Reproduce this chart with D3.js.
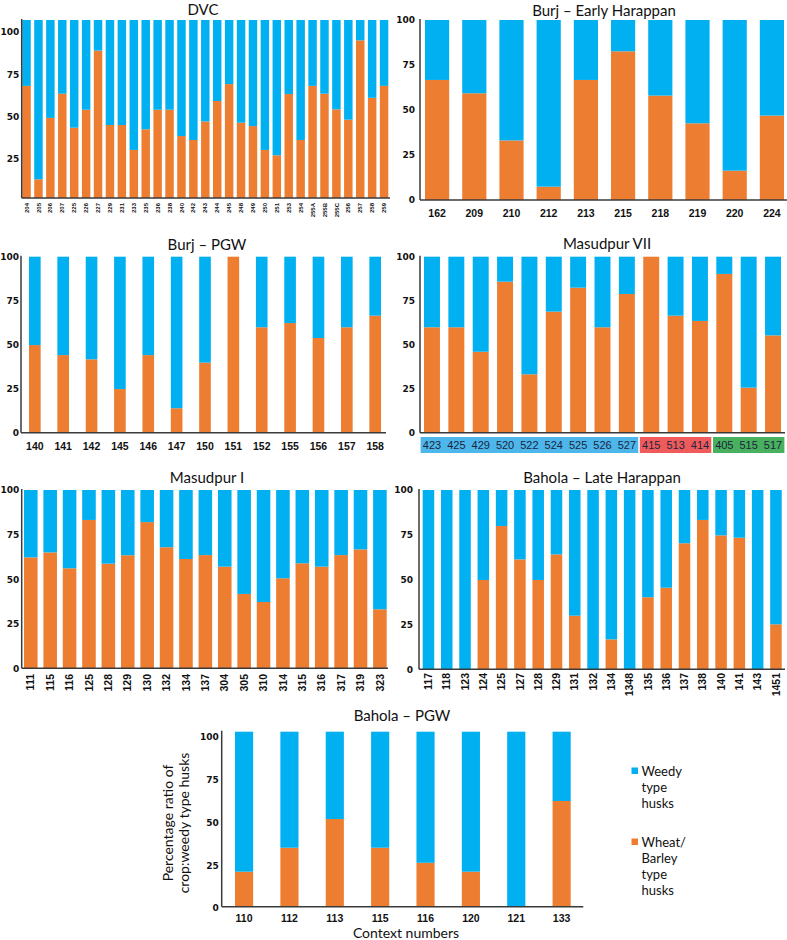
<!DOCTYPE html>
<html>
<head>
<meta charset="utf-8">
<script src="https://cdn.jsdelivr.net/npm/d3@7"></script>
<style>
body { margin: 0; background: #fff; }
svg text { font-family: Lato, "Open Sans", sans-serif; }
</style>
</head>
<body>
<div id="chart"></div>
<script>
// wheat/barley share (%) per context; weedy = 100 - wheat
var dvcLabels = ["204","205","206","207","225","226","227","229","231","233","235","236","238","240","242","243","244","245","248","249","250","251","253","254","255A","255B","255C","256","257","258","259"];
var dvcWheat = [63,10.5,45,58.6,39.5,49.6,82.8,41,41,27,38.6,49.6,49.6,34.8,32.6,43,54.5,64,42.3,40.4,27,24,58.4,32.6,63,58.6,49.8,44,88.6,56.3,63];

var burjEhLabels = ["162","209","210","212","213","215","218","219","220","224"];
var burjEhWheat = [66.7,59.3,33.1,7.4,66.7,82.6,58,42.6,16.3,46.9];

var burjPgwLabels = ["140","141","142","145","146","147","150","151","152","155","156","157","158"];
var burjPgwWheat = [49.8,44.1,41.7,24.8,44.1,13.9,39.8,100,59.9,62.3,53.8,59.9,66.5];

var masVIILabels = ["423","425","429","520","522","524","525","526","527","415","513","414","405","515","517"];
var masVIIWheat = [59.9,59.9,46,85.8,33.2,68.8,82.4,59.9,78.8,100,66.5,63.5,90.2,25.6,55.3];
var masVIIGroups = [9,3,3];

var masILabels = ["111","115","116","125","128","129","130","132","134","137","304","305","310","314","315","316","317","319","323"];
var masIWheat = [62.2,65,56.1,83.2,58.7,63.4,82,67.9,61.3,63.5,57,41.7,37.2,50.5,58.9,57,63.5,66.7,33.1];

var bahLhLabels = ["117","118","123","124","125","127","128","129","131","132","134","1348","135","136","137","138","140","141","143","1451"];
var bahLhWheat = [0,0,0,49.8,79.9,61.3,49.8,64.1,29.9,0,16.7,0,40.2,45.5,70.3,83.3,74.7,73.4,0,25.1];

var bahPgwLabels = ["110","112","113","115","116","120","121","133"];
var bahPgwWheat = [20,33.7,50.1,33.7,25.1,20,0,60.4];

var yTicks = [0,25,50,75,100];
var colors = { wheat: "#ed7d31", weedy: "#00b0f0" };
var axisColor = "#3a3a3a";

var svg = d3.select('#chart')
	.append('svg')
	.attr('width', 787)
	.attr('height', 940);

function drawPanel(o)
{
	var rows = o.labels.map(function(d, i) {
		return { ctx: d, wheat: o.wheat[i], weedy: 100 - o.wheat[i] };
	});
	var x = d3.scaleBand().domain(o.labels).range([o.x1, o.x2]).paddingInner(o.pad).paddingOuter(0);
	var y = d3.scaleLinear().domain([0, 100]).range([o.bottom, o.top]);
	var layers = d3.stack().keys(['wheat', 'weedy'])(rows);
	var g = svg.append('g');

	g.selectAll('g.layer')
		.data(layers)
		.enter().append('g')
		.attr('fill', function(d) { return colors[d.key]; })
		.selectAll('rect')
		.data(function(d) { return d; })
		.enter().append('rect')
		.attr('x', function(d) { return x(d.data.ctx); })
		.attr('width', x.bandwidth())
		.attr('y', function(d) { return y(d[1]); })
		.attr('height', function(d) { return y(d[0]) - y(d[1]); });

	// axis lines
	g.append('line')
		.attr('x1', o.axisX).attr('x2', o.axisX)
		.attr('y1', o.top - 1).attr('y2', o.bottom)
		.attr('style', 'stroke:' + axisColor + ';stroke-width:1.5');
	g.append('line')
		.attr('x1', o.axisX).attr('x2', o.baseEnd)
		.attr('y1', o.bottom).attr('y2', o.bottom)
		.attr('style', 'stroke:' + axisColor + ';stroke-width:1.5');

	// y tick labels
	var ty = o.tickScale || y;
	var ya = g.append('g')
		.attr('transform', 'translate(' + o.axisX + ',0)')
		.call(d3.axisLeft(ty).tickValues(o.ticks || yTicks).tickSize(0).tickPadding(o.tickPad || 4));
	ya.select('.domain').remove();
	ya.selectAll('text')
		.attr('fill', '#111')
		.style('font-family', '"DejaVu Sans", sans-serif')
		.style('font-weight', 'bold')
		.style('font-size', '9px');

	// x labels
	var xa = g.append('g')
		.attr('transform', 'translate(0,' + o.bottom + ')')
		.call(d3.axisBottom(x).tickSize(0));
	xa.select('.domain').remove();
	var xt = xa.selectAll('text')
		.attr('fill', o.labelColor || '#111')
		.style('font-family', '"Liberation Sans", Arial, sans-serif')
		.style('font-weight', o.labelWeight || 'bold')
		.style('font-size', o.labelSize + 'px');
	if (o.rotate)
	{
		xt.attr('y', 0).attr('dy', '0.35em')
			.attr('text-anchor', 'end')
			.attr('transform', 'translate(0,' + (o.labelY - o.bottom) + ') rotate(-90)');
	}
	else
	{
		xt.attr('y', o.labelY - o.bottom).attr('dy', null);
	}

	// title
	g.append('text')
		.attr('x', o.titleX)
		.attr('y', o.titleY)
		.attr('text-anchor', 'middle')
		.attr('fill', '#111')
		.style('font-size', '15px')
		.text(o.title);

	return { g: g, x: x, y: y, xa: xa };
}

drawPanel({ title: "DVC", titleX: 203, titleY: 15, labels: dvcLabels, wheat: dvcWheat,
	x1: 22.3, x2: 388.3, pad: 0.29, top: 20, bottom: 198, axisX: 21.7, baseEnd: 390,
	ticks: [25, 50, 75, 100], tickPad: 2.5, tickScale: d3.scaleLinear().domain([2, 107]).range([198, 20]),
	rotate: true, labelY: 203, labelSize: 6 });

drawPanel({ title: "Burj \u2013 Early Harappan", titleX: 604, titleY: 16, labels: burjEhLabels, wheat: burjEhWheat,
	x1: 425, x2: 784, pad: 0.35, top: 20, bottom: 200, axisX: 420, baseEnd: 787,
	tickPad: 5, rotate: false, labelY: 217, labelSize: 10.5 });

drawPanel({ title: "Burj \u2013 PGW", titleX: 207, titleY: 250, labels: burjPgwLabels, wheat: burjPgwWheat,
	x1: 29, x2: 381, pad: 0.59, top: 256.7, bottom: 432.7, axisX: 21, baseEnd: 386,
	tickPad: 2, rotate: false, labelY: 450, labelSize: 10.5 });

var mas7 = drawPanel({ title: "Masudpur VII", titleX: 607, titleY: 249, labels: masVIILabels, wheat: masVIIWheat,
	x1: 424, x2: 781, pad: 0.345, top: 256.7, bottom: 432.7, axisX: 420, baseEnd: 785,
	tickPad: 5, rotate: false, labelY: 449, labelSize: 11, labelWeight: 'normal', labelColor: '#1c2540' });

// coloured context groups under Masudpur VII
var groupColors = ["#4db6ea", "#ef5b5b", "#48b05e"];
var gx = mas7.x, half = (gx.step() - gx.bandwidth()) / 2, start = 0;
masVIIGroups.forEach(function(n, i) {
	var first = masVIILabels[start], last = masVIILabels[start + n - 1];
	mas7.g.insert('rect', 'g')
		.attr('x', gx(first) - half + 0.8)
		.attr('width', gx(last) + gx.bandwidth() + half - 0.8 - (gx(first) - half + 0.8))
		.attr('y', 437)
		.attr('height', 16)
		.attr('fill', groupColors[i]);
	start += n;
});

drawPanel({ title: "Masudpur I", titleX: 207, titleY: 483, labels: masILabels, wheat: masIWheat,
	x1: 24, x2: 386.7, pad: 0.3, top: 490, bottom: 668.3, axisX: 21.7, baseEnd: 388,
	tickPad: 2.5, rotate: true, labelY: 674, labelSize: 10.5 });

drawPanel({ title: "Bahola \u2013 Late Harappan", titleX: 602, titleY: 483, labels: bahLhLabels, wheat: bahLhWheat,
	x1: 422.7, x2: 781.7, pad: 0.37, top: 490, bottom: 669.3, axisX: 419, baseEnd: 785,
	tickPad: 6, rotate: true, labelY: 673, labelSize: 10.5 });

drawPanel({ title: "Bahola \u2013 PGW", titleX: 402, titleY: 721, labels: bahPgwLabels, wheat: bahPgwWheat,
	x1: 235, x2: 570.7, pad: 0.6, top: 731.7, bottom: 906.7, axisX: 221.7, baseEnd: 583.3,
	tickPad: 3, tickScale: d3.scaleLinear().domain([0, 100]).range([908, 737]),
	rotate: false, labelY: 922, labelSize: 10.5 });

// axis titles for the bottom panel
svg.append('text')
	.attr('x', 406).attr('y', 938)
	.attr('text-anchor', 'middle')
	.attr('fill', '#111')
	.style('font-size', '14px')
	.text('Context numbers');

var yTitle = svg.append('text')
	.attr('transform', 'translate(178,823) rotate(-90)')
	.attr('text-anchor', 'middle')
	.attr('fill', '#111')
	.style('font-size', '14px');
yTitle.append('tspan').attr('x', 0).attr('dy', '-0.35em').text('Percentage ratio of');
yTitle.append('tspan').attr('x', 0).attr('dy', '1.15em').text('crop:weedy type husks');

// legend
var legendItems = [
	{ key: 'weedy', lines: ['Weedy', 'type', 'husks'], y: 771 },
	{ key: 'wheat', lines: ['Wheat/', 'Barley', 'type', 'husks'], y: 842 }
];
var lg = svg.append('g');
legendItems.forEach(function(it) {
	lg.append('rect')
		.attr('x', 631.5).attr('y', it.y - 3.5)
		.attr('width', 6.5).attr('height', 6.5)
		.attr('fill', colors[it.key]);
	var t = lg.append('text')
		.attr('fill', '#111')
		.style('font-size', '13px');
	it.lines.forEach(function(l, i) {
		t.append('tspan').attr('x', 641.5).attr('y', it.y + 4.5 + i * 16).text(l);
	});
});
</script>
</body>
</html>
